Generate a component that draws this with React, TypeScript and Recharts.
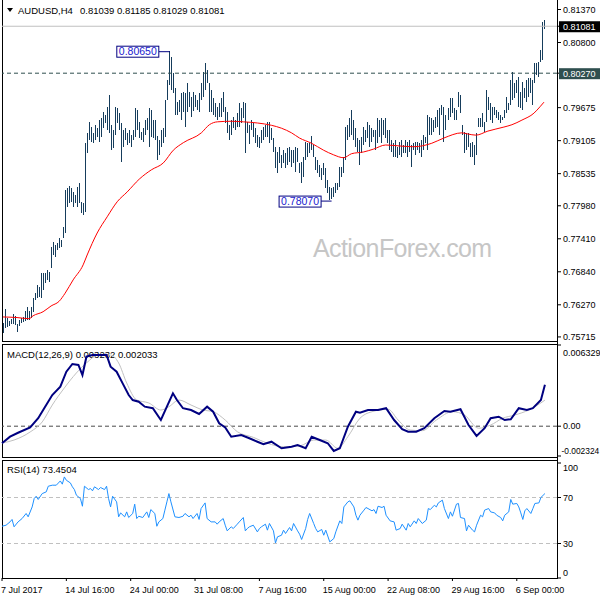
import React from 'react';
import { ComposedChart, Bar, Line, XAxis, YAxis, ReferenceLine, ReferenceDot } from 'recharts';

const FONT = '"Liberation Sans", Arial, sans-serif';
const BAR = '#163d5c';

// H4 bar highs / lows, oldest first
const highs = [
  0.7595, 0.7620, 0.7604, 0.7599, 0.7602, 0.7611, 0.7608, 0.7594, 0.7601, 0.7604,
  0.7606, 0.7616, 0.7623, 0.7616, 0.7623, 0.7639, 0.7647, 0.7661, 0.7658, 0.7682,
  0.7682, 0.7682, 0.7687, 0.7684, 0.7727, 0.7735, 0.7730, 0.7734, 0.7742, 0.7739,
  0.7761, 0.7825, 0.7829, 0.7832, 0.7829, 0.7822, 0.7817, 0.7830, 0.7837, 0.7805,
  0.7803, 0.7906, 0.7924, 0.7943, 0.7934, 0.7924, 0.7938, 0.7932, 0.7946, 0.7950,
  0.7960, 0.7955, 0.7969, 0.7989, 0.7938, 0.7929, 0.7969, 0.7967, 0.7958, 0.7941,
  0.7929, 0.7932, 0.7924, 0.7929, 0.7920, 0.7929, 0.7967, 0.7963, 0.7943, 0.7925,
  0.7932, 0.7946, 0.7950, 0.7967, 0.7963, 0.7946, 0.7946, 0.7919, 0.7912, 0.7929,
  0.7932, 0.7981, 0.8015, 0.8065, 0.8055, 0.8027, 0.8001, 0.7977, 0.7981, 0.7993,
  0.7995, 0.7993, 0.8010, 0.7995, 0.7986, 0.7995, 0.7989, 0.7981, 0.7993, 0.8010,
  0.8029, 0.8045, 0.8032, 0.8010, 0.7998, 0.7984, 0.7975, 0.7969, 0.7975, 0.7984,
  0.7995, 0.7969, 0.7960, 0.7938, 0.7946, 0.7951, 0.7946, 0.7958, 0.7975, 0.7967,
  0.7977, 0.7975, 0.7943, 0.7938, 0.7946, 0.7941, 0.7932, 0.7920, 0.7917, 0.7929,
  0.7934, 0.7938, 0.7943, 0.7943, 0.7932, 0.7915, 0.7900, 0.7891, 0.7900, 0.7886,
  0.7894, 0.7889, 0.7898, 0.7900, 0.7894, 0.7894, 0.7900, 0.7898, 0.7872, 0.7874,
  0.7882, 0.7908, 0.7906, 0.7906, 0.7919, 0.7903, 0.7882, 0.7877, 0.7868, 0.7863,
  0.7872, 0.7863, 0.7843, 0.7830, 0.7829, 0.7830, 0.7837, 0.7837, 0.7865, 0.7865,
  0.7882, 0.7934, 0.7938, 0.7950, 0.7963, 0.7946, 0.7932, 0.7915, 0.7912, 0.7917,
  0.7934, 0.7929, 0.7943, 0.7938, 0.7932, 0.7929, 0.7929, 0.7950, 0.7946, 0.7950,
  0.7946, 0.7950, 0.7929, 0.7929, 0.7912, 0.7906, 0.7912, 0.7900, 0.7908, 0.7912,
  0.7903, 0.7912, 0.7908, 0.7912, 0.7903, 0.7906, 0.7908, 0.7908, 0.7906, 0.7912,
  0.7920, 0.7917, 0.7955, 0.7951, 0.7950, 0.7946, 0.7951, 0.7963, 0.7967, 0.7972,
  0.7969, 0.7955, 0.7967, 0.7984, 0.7984, 0.7967, 0.7963, 0.7995, 0.7989, 0.7938,
  0.7925, 0.7924, 0.7924, 0.7906, 0.7908, 0.7903, 0.7924, 0.7950, 0.7950, 0.7958,
  0.7943, 0.7998, 0.7986, 0.7975, 0.7969, 0.7969, 0.7963, 0.7960, 0.7955, 0.7951,
  0.7963, 0.7986, 0.7975, 0.8015, 0.8029, 0.8010, 0.8015, 0.8020, 0.7995, 0.8012,
  0.8001, 0.8015, 0.8019, 0.8019, 0.8015, 0.8045, 0.8045, 0.8046, 0.8067, 0.8115,
  0.81185,
];

const lows = [
  0.7578, 0.7587, 0.7589, 0.7590, 0.7594, 0.7594, 0.7592, 0.7580, 0.7590, 0.7595,
  0.7597, 0.7599, 0.7601, 0.7601, 0.7604, 0.7615, 0.7635, 0.7639, 0.7641, 0.7639,
  0.7653, 0.7665, 0.7670, 0.7667, 0.7691, 0.7713, 0.7710, 0.7722, 0.7725, 0.7727,
  0.7742, 0.7751, 0.7796, 0.7803, 0.7805, 0.7796, 0.7803, 0.7796, 0.7803, 0.7786,
  0.7782, 0.7786, 0.7889, 0.7912, 0.7908, 0.7906, 0.7912, 0.7917, 0.7908, 0.7917,
  0.7932, 0.7941, 0.7929, 0.7924, 0.7894, 0.7898, 0.7920, 0.7941, 0.7929, 0.7874,
  0.7900, 0.7912, 0.7903, 0.7906, 0.7900, 0.7912, 0.7917, 0.7929, 0.7915, 0.7912,
  0.7908, 0.7920, 0.7929, 0.7900, 0.7917, 0.7915, 0.7912, 0.7877, 0.7886, 0.7900,
  0.7906, 0.7917, 0.7981, 0.8007, 0.7998, 0.7993, 0.7955, 0.7955, 0.7960, 0.7946,
  0.7960, 0.7934, 0.7960, 0.7969, 0.7951, 0.7963, 0.7969, 0.7963, 0.7960, 0.7981,
  0.7986, 0.7998, 0.8010, 0.7960, 0.7960, 0.7955, 0.7950, 0.7946, 0.7951, 0.7951,
  0.7960, 0.7941, 0.7924, 0.7912, 0.7920, 0.7932, 0.7929, 0.7934, 0.7934, 0.7941,
  0.7950, 0.7889, 0.7924, 0.7906, 0.7929, 0.7917, 0.7906, 0.7900, 0.7898, 0.7906,
  0.7912, 0.7917, 0.7917, 0.7906, 0.7912, 0.7891, 0.7863, 0.7855, 0.7872, 0.7863,
  0.7872, 0.7863, 0.7868, 0.7874, 0.7865, 0.7872, 0.7856, 0.7874, 0.7855, 0.7837,
  0.7848, 0.7877, 0.7882, 0.7889, 0.7894, 0.7882, 0.7860, 0.7855, 0.7848, 0.7843,
  0.7851, 0.7829, 0.7820, 0.7807, 0.7810, 0.7813, 0.7820, 0.7825, 0.7830, 0.7848,
  0.7855, 0.7877, 0.7912, 0.7917, 0.7920, 0.7912, 0.7900, 0.7891, 0.7868, 0.7889,
  0.7903, 0.7908, 0.7915, 0.7900, 0.7908, 0.7917, 0.7894, 0.7906, 0.7917, 0.7906,
  0.7920, 0.7915, 0.7906, 0.7894, 0.7891, 0.7881, 0.7882, 0.7881, 0.7886, 0.7882,
  0.7889, 0.7889, 0.7882, 0.7891, 0.7865, 0.7894, 0.7886, 0.7894, 0.7889, 0.7882,
  0.7894, 0.7906, 0.7894, 0.7920, 0.7920, 0.7925, 0.7932, 0.7934, 0.7920, 0.7955,
  0.7908, 0.7929, 0.7946, 0.7951, 0.7958, 0.7946, 0.7946, 0.7969, 0.7958, 0.7920,
  0.7889, 0.7894, 0.7900, 0.7882, 0.7882, 0.7868, 0.7886, 0.7934, 0.7934, 0.7934,
  0.7925, 0.7943, 0.7963, 0.7946, 0.7941, 0.7955, 0.7950, 0.7946, 0.7941, 0.7946,
  0.7950, 0.7958, 0.7963, 0.7972, 0.7981, 0.7984, 0.7993, 0.7969, 0.7967, 0.7963,
  0.7984, 0.7977, 0.7986, 0.7993, 0.7972, 0.8010, 0.8024, 0.8020, 0.8046, 0.8050,
  0.81029,
];

// [bar index, value]
const maPts = [
  [0, 0.7606], [7, 0.7605], [13, 0.7603], [15, 0.7608], [20, 0.7615], [24, 0.7625], [28, 0.7633],
  [31, 0.7647], [35, 0.7670], [40, 0.7696], [42, 0.7713], [47, 0.7751], [52, 0.7779], [57, 0.7805],
  [62, 0.7822], [68, 0.7844], [74, 0.7860], [80, 0.7872], [85, 0.7894], [90, 0.7907], [99, 0.7924],
  [103, 0.7938], [107, 0.7943], [114, 0.7944], [120, 0.7943], [127, 0.7941], [134, 0.7937],
  [139, 0.7932], [144, 0.7924], [148, 0.7915], [154, 0.7906], [160, 0.7894], [165, 0.7886],
  [170, 0.7881], [174, 0.7888], [180, 0.7891], [185, 0.7896], [191, 0.7903], [199, 0.7901],
  [205, 0.7900], [214, 0.7906], [220, 0.7915], [229, 0.7924], [232, 0.7922], [236, 0.7920],
  [242, 0.7927], [250, 0.7934], [254, 0.7938], [259, 0.7946], [265, 0.7958], [268, 0.7969],
  [270, 0.7977],
];

const macdPts = [
  [0, -0.00133], [4, -0.00082], [8, -0.00051], [14, -0.00009], [18, 0.00062], [21, 0.0014],
  [25, 0.00243], [29, 0.00308], [32, 0.00425], [35, 0.00485], [38, 0.00477], [40, 0.00399],
  [42, 0.00542], [45, 0.00555], [48, 0.00555], [52, 0.00555], [54, 0.00464], [57, 0.00425],
  [60, 0.00334], [63, 0.00243], [65, 0.00204], [68, 0.00191], [71, 0.00152], [75, 0.0014],
  [79, 0.00048], [82, 0.00152], [85, 0.00256], [87, 0.00204], [90, 0.0014], [94, 0.00126],
  [98, 0.00095], [102, 0.00152], [105, 0.00113], [108, 0.00023], [111, -0.00009], [114, -0.00082],
  [119, -0.00069], [123, -0.00094], [127, -0.00121], [130, -0.00141], [134, -0.00121],
  [139, -0.00172], [144, -0.0016], [147, -0.00147], [151, -0.00172], [154, -0.00082],
  [158, -0.00108], [162, -0.00133], [165, -0.00193], [168, -0.00172], [172, -0.00004],
  [176, 0.00113], [178, 0.00105], [182, 0.00126], [187, 0.00126], [191, 0.0014], [195, 0.00048],
  [199, -0.00024], [202, -0.00043], [206, -0.00043], [210, -0.00016], [215, 0.00062],
  [220, 0.00118], [223, 0.00113], [228, 0.00132], [232, 0.00009], [236, -0.00076],
  [240, -0.00016], [243, 0.00062], [247, 0.00074], [250, 0.00048], [253, 0.00054],
  [257, 0.0014], [261, 0.00126], [264, 0.0014], [268, 0.00204], [270, 0.00323],
];

const signalPts = [
  [0, -0.00131], [6, -0.00108], [14, -0.00045], [20, 0.00033], [25, 0.00165], [31, 0.00298],
  [37, 0.00415], [42, 0.00493], [48, 0.00555], [54, 0.00555], [58, 0.00493], [62, 0.00337],
  [67, 0.00204], [73, 0.00181], [79, 0.00126], [83, 0.00152], [88, 0.00204], [94, 0.00165],
  [100, 0.00126], [105, 0.00113], [111, 0.00048], [117, -0.00043], [125, -0.00087],
  [132, -0.00133], [140, -0.0016], [148, -0.00154], [155, -0.00108], [161, -0.00108],
  [167, -0.00172], [172, -0.00082], [178, 0.00062], [184, 0.00113], [192, 0.00132],
  [197, 0.00048], [203, -0.0003], [209, -0.00035], [216, 0.00048], [224, 0.00113],
  [230, 0.00087], [237, -0.00016], [243, 0.00009], [249, 0.00062], [255, 0.00087],
  [262, 0.00126], [270, 0.00203],
];

const rsiPts = [
  [0, 45.0], [2, 45.9], [4, 48.8], [5, 50.9], [6, 44.5], [8, 48.8], [10, 51.7], [12, 56.1],
  [13, 53.2], [15, 61.8], [16, 69.1], [17, 71.1], [18, 68.3], [20, 73.4], [22, 74.9], [23, 79.8],
  [25, 80.7], [27, 80.7], [29, 84.4], [30, 81.6], [31, 87.9], [32, 85.0], [34, 82.7], [35, 79.3],
  [36, 76.9], [37, 72.0], [39, 69.1], [40, 62.4], [41, 79.8], [43, 76.9], [44, 77.8], [45, 75.8],
  [46, 79.3], [48, 76.9], [49, 78.7], [51, 76.9], [52, 79.8], [53, 69.1], [54, 61.8], [55, 71.1],
  [57, 66.2], [58, 53.2], [59, 56.6], [61, 53.2], [62, 57.5], [63, 52.6], [65, 56.1], [66, 64.2],
  [67, 51.7], [68, 53.7], [70, 52.6], [72, 57.5], [73, 52.6], [74, 59.5], [76, 56.1], [77, 45.0],
  [78, 48.8], [80, 51.7], [81, 59.0], [82, 66.2], [83, 73.4], [84, 66.2], [86, 53.2], [88, 52.6],
  [90, 53.7], [91, 56.1], [93, 53.2], [94, 54.6], [95, 51.7], [97, 56.1], [98, 50.9], [99, 60.4],
  [101, 65.3], [102, 51.7], [104, 48.8], [106, 48.8], [107, 46.8], [108, 48.8], [110, 51.7],
  [111, 45.9], [112, 41.0], [114, 44.5], [115, 43.0], [117, 46.8], [118, 48.8], [120, 52.6],
  [121, 41.0], [122, 43.0], [123, 44.5], [125, 45.9], [127, 40.1], [128, 43.0], [129, 44.5],
  [131, 46.8], [132, 41.6], [133, 47.4], [135, 41.0], [136, 30.5], [137, 35.8], [139, 37.2],
  [140, 41.6], [141, 38.7], [143, 43.9], [144, 41.0], [145, 47.4], [147, 41.0], [148, 38.1],
  [149, 33.5], [151, 43.0], [152, 50.9], [153, 56.1], [155, 47.4], [156, 43.0], [157, 40.1],
  [159, 42.2], [160, 37.2], [161, 41.6], [163, 31.4], [165, 34.3], [166, 40.1], [168, 49.7],
  [169, 47.4], [170, 61.8], [172, 66.2], [173, 67.1], [175, 61.8], [176, 54.6], [177, 50.3],
  [178, 54.6], [180, 59.0], [181, 61.3], [182, 60.4], [184, 58.4], [185, 59.5], [186, 56.1],
  [187, 62.4], [189, 61.3], [190, 62.4], [191, 54.6], [193, 49.7], [195, 48.8], [196, 41.6],
  [198, 43.0], [199, 46.8], [201, 41.6], [202, 47.4], [203, 44.5], [205, 49.7], [206, 47.4],
  [207, 51.7], [209, 47.4], [211, 50.3], [212, 60.4], [213, 59.5], [215, 63.3], [216, 61.8],
  [217, 65.3], [219, 67.7], [220, 60.4], [222, 51.7], [223, 57.5], [224, 53.7], [226, 64.2],
  [227, 64.8], [228, 52.6], [230, 51.7], [231, 41.0], [232, 45.9], [234, 41.6], [235, 40.1],
  [236, 45.9], [238, 54.6], [239, 53.2], [240, 59.0], [242, 60.4], [243, 57.5], [245, 56.6],
  [246, 54.6], [248, 52.6], [249, 49.7], [250, 54.6], [252, 57.5], [253, 68.3], [254, 64.2],
  [256, 64.8], [257, 61.8], [258, 56.6], [259, 50.9], [260, 58.4], [261, 60.4], [263, 56.1],
  [264, 60.4], [265, 64.8], [267, 65.3], [268, 70.0], [270, 73.45],
];

const priceTicks = [0.8137, 0.81081, 0.808, 0.8027, 0.79675, 0.79105, 0.78535, 0.7798, 0.7741, 0.7684, 0.7627, 0.75715];
const lastPrice = 0.81081;
const levelPrice = 0.8027;
const highMark = { idx: 83, price: 0.8065 };
const lowMark = { idx: 163, price: 0.7807 };
const macdTicks = [0.006329, 0, -0.002324];
const rsiTicks = [100, 70, 30, 0];
const timeTickIdx = [0, 32, 64, 96, 128, 160, 192, 224, 256];
const timeLabels = ['7 Jul 2017', '14 Jul 16:00', '24 Jul 00:00', '31 Jul 08:00', '7 Aug 16:00', '15 Aug 00:00', '22 Aug 08:00', '29 Aug 16:00', '6 Sep 00:00'];

const SLOTS = 277;
const rows: any[] = Array.from({ length: SLOTS }, (_, i) => ({
  i,
  hl: i < highs.length ? [lows[i], highs[i]] : undefined,
}));
maPts.forEach(([k, v]) => { rows[k].ma = v; });
macdPts.forEach(([k, v]) => { rows[k].macd = v; });
signalPts.forEach(([k, v]) => { rows[k].sig = v; });
rsiPts.forEach(([k, v]) => { rows[k].rsi = v; });

const HLBar = (props: any) => {
  const { x, y, width, height, payload } = props;
  if (!payload || !payload.hl || height == null) return <g />;
  const cx = Math.floor(x + width / 2);
  const top = Math.min(y, y + height);
  const h = Math.abs(height);
  return <rect x={cx} y={Math.round(top)} width={1} height={Math.max(1, Math.round(h))} fill={BAR} />;
};

const PriceTick = (props: any) => {
  const { x, y, payload } = props;
  const v = payload.value;
  const txt = v.toFixed(5);
  if (v === lastPrice || v === levelPrice) {
    const bg = v === lastPrice ? '#000000' : '#2f4f4f';
    return (
      <g>
        <rect x={x - 4} y={y - 5} width={42} height={11} fill={bg} />
        <text x={x} y={y + 3.5} fill="#ffffff" fontSize={9} fontFamily={FONT}>{txt}</text>
      </g>
    );
  }
  return <text x={x} y={y + 3.3} fill="#000" fontSize={9} fontFamily={FONT}>{txt}</text>;
};

const MacdTick = (props: any) => {
  const { x, y, payload } = props;
  const v = payload.value;
  const txt = v === 0 ? '0.00' : String(v);
  const isTop = v === macdTicks[0];
  const isBottom = v === macdTicks[2];
  const shift = isTop ? 7.7 : isBottom ? -5 : 0;
  return (
    <text x={isBottom ? x - 1.5 : x} y={y + 3.3 + shift} fill="#000" fontSize={isBottom ? 8.4 : 9} fontFamily={FONT}>
      {txt}
    </text>
  );
};

const RsiTick = (props: any) => {
  const { x, y, payload } = props;
  const v = payload.value;
  const shift = v === 100 ? 4.7 : v === 0 ? -5.7 : 0;
  return <text x={x} y={y + 3.3 + shift} fill="#000" fontSize={9} fontFamily={FONT}>{String(v)}</text>;
};

const TimeTick = (props: any) => {
  const { x, y, payload } = props;
  const k = timeTickIdx.indexOf(payload.value);
  return <text x={x - 1} y={y + 9.5} fill="#000" fontSize={9} fontFamily={FONT}>{timeLabels[k]}</text>;
};

const HighTag = (p: any) => {
  const { cx, cy } = p;
  return (
    <g>
      <line x1={cx - 10.5} y1={cy + 0.5} x2={cx + 0.5} y2={cy + 0.5} stroke="#000080" />
      <rect x={cx - 52.5} y={cy - 5} width={42} height={11} fill="#fff" stroke="#000080" />
      <text x={cx - 31.5} y={cy + 4.3} textAnchor="middle" fontSize={10.5} fill="#1a1ad0" fontFamily={FONT}>
        {highMark.price.toFixed(5)}
      </text>
    </g>
  );
};

const LowTag = (p: any) => {
  const { cx, cy } = p;
  return (
    <g>
      <line x1={cx - 8.5} y1={cy + 0.5} x2={cx + 2} y2={cy + 0.5} stroke="#000080" />
      <rect x={cx - 50.5} y={cy - 4.5} width={42} height={11} fill="#fff" stroke="#000080" />
      <text x={cx - 29.5} y={cy + 4.8} textAnchor="middle" fontSize={10.5} fill="#1a1ad0" fontFamily={FONT}>
        {lowMark.price.toFixed(5)}
      </text>
    </g>
  );
};

const abs = (left: number, top: number): React.CSSProperties => ({ position: 'absolute', left, top });

export default function App() {
  return (
    <div style={{ position: 'absolute', left: 0, top: 0, width: 600, height: 600, background: '#fff', overflow: 'hidden', fontFamily: FONT }}>
      {/* panel frames */}
      <div style={{ ...abs(2, 0), width: 556, height: 342, boxSizing: 'border-box', borderLeft: '1px solid #000', borderBottom: '1px solid #000' }} />
      <div style={{ ...abs(2, 344), width: 556, height: 114, boxSizing: 'border-box', borderLeft: '1px solid #000', borderTop: '1px solid #000', borderBottom: '1px solid #000' }} />
      <div style={{ ...abs(2, 460), width: 556, height: 119, boxSizing: 'border-box', borderLeft: '1px solid #000', borderTop: '1px solid #000', borderBottom: '1px solid #000' }} />
      <div style={{ ...abs(557, 0), width: 1, height: 579, background: '#000' }} />

      {/* static texts */}
      <svg width={600} height={600} style={abs(0, 0)}>
        <polygon points="7,8 13,8 10,12" fill="#000" />
        <text x={18} y={14} fontSize={9.5} fontFamily={FONT} fill="#000">AUDUSD,H4</text>
        <text x={80} y={14} fontSize={9.5} fontFamily={FONT} fill="#000">0.81039 0.81185 0.81029 0.81081</text>
        <text x={313} y={257} fontSize={25} letterSpacing={-0.6} fontFamily={FONT} fill="#c6c6c6">ActionForex.com</text>
        <text x={7} y={357.5} fontSize={9.5} fontFamily={FONT} fill="#000">MACD(12,26,9) 0.003232 0.002033</text>
        <text x={7} y={472.5} fontSize={9.5} fontFamily={FONT} fill="#000">RSI(14) 73.4504</text>
      </svg>

      {/* price panel */}
      <div style={abs(0, 0)}>
        <ComposedChart width={600} height={341} data={rows} margin={{ top: 1, right: 0, bottom: 1, left: 2 }}>
          <XAxis dataKey="i" type="category" hide />
          <YAxis
            orientation="right"
            width={43}
            domain={[0.75662, 0.81517]}
            allowDataOverflow
            ticks={priceTicks}
            interval={0}
            tick={(p: any) => <PriceTick {...p} />}
            tickSize={4}
            tickMargin={2}
            tickLine={{ stroke: '#000' }}
            axisLine={false}
          />
          <ReferenceLine y={lastPrice} stroke="#c0c0c0" />
          <ReferenceLine y={levelPrice} stroke="#2f4f4f" strokeDasharray="4 3" />
          <Bar dataKey="hl" shape={HLBar} isAnimationActive={false} />
          <Line dataKey="ma" type="monotone" stroke="#ff0000" strokeWidth={1} dot={false} connectNulls isAnimationActive={false} />
          <ReferenceDot x={highMark.idx} y={highMark.price} shape={(p: any) => <HighTag {...p} />} />
          <ReferenceDot x={lowMark.idx} y={lowMark.price} shape={(p: any) => <LowTag {...p} />} />
        </ComposedChart>
      </div>

      {/* MACD panel */}
      <div style={abs(0, 344)}>
        <ComposedChart width={600} height={113} data={rows} margin={{ top: 1, right: 0, bottom: 1, left: 2 }}>
          <XAxis dataKey="i" type="category" hide />
          <YAxis
            orientation="right"
            width={43}
            domain={[-0.002324, 0.006329]}
            allowDataOverflow
            ticks={macdTicks}
            interval={0}
            tick={(p: any) => <MacdTick {...p} />}
            tickSize={4}
            tickMargin={2}
            tickLine={{ stroke: '#000' }}
            axisLine={false}
          />
          <ReferenceLine y={0} stroke="#4a4a4a" strokeDasharray="4 3" />
          <Line dataKey="sig" type="monotone" stroke="#c0c0c0" strokeWidth={1} dot={false} connectNulls isAnimationActive={false} />
          <Line dataKey="macd" type="linear" stroke="#000080" strokeWidth={2} dot={false} connectNulls isAnimationActive={false} />
        </ComposedChart>
      </div>

      {/* RSI panel */}
      <div style={abs(0, 460)}>
        <ComposedChart width={600} height={141} data={rows} margin={{ top: 3, right: 0, bottom: 1, left: 2 }}>
          <XAxis
            dataKey="i"
            type="category"
            height={22}
            ticks={timeTickIdx}
            interval={0}
            tick={(p: any) => <TimeTick {...p} />}
            tickSize={3}
            tickMargin={2}
            tickLine={{ stroke: '#000' }}
            axisLine={false}
          />
          <YAxis
            orientation="right"
            width={43}
            domain={[0, 100]}
            allowDataOverflow
            ticks={rsiTicks}
            interval={0}
            tick={(p: any) => <RsiTick {...p} />}
            tickSize={4}
            tickMargin={2}
            tickLine={{ stroke: '#000' }}
            axisLine={false}
          />
          <ReferenceLine y={70} stroke="#c0c0c0" strokeDasharray="4 3" />
          <ReferenceLine y={30} stroke="#c0c0c0" strokeDasharray="4 3" />
          <Line dataKey="rsi" type="linear" stroke="#1e90ff" strokeWidth={1} dot={false} connectNulls isAnimationActive={false} />
        </ComposedChart>
      </div>
    </div>
  );
}
